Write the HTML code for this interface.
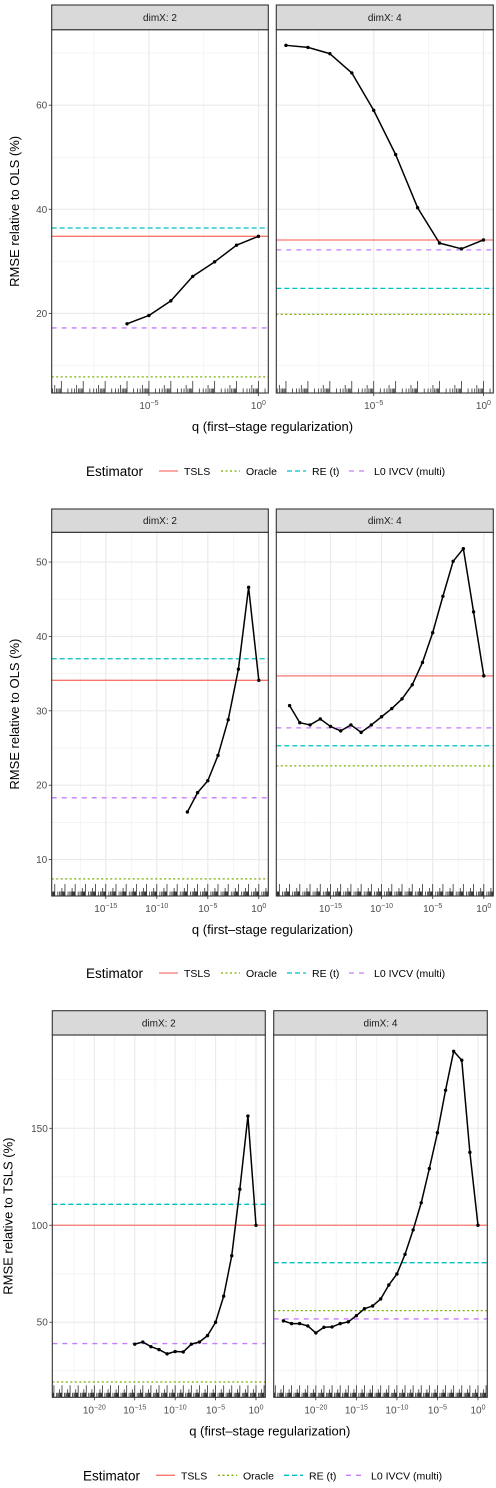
<!DOCTYPE html>
<html><head><meta charset="utf-8">
<style>html,body{margin:0;padding:0;background:#fff}svg{display:block}</style>
</head><body>
<svg id="chart" width="496" height="1488" xmlns="http://www.w3.org/2000/svg" font-family="Liberation Sans, sans-serif"></svg>
<script>
// ---- data: row 1 (RMSE relative to OLS) ----
const r1LeftLogQ = [-6,-5,-4,-3,-2,-1,0];
const r1LeftVals = [18.0,19.6,22.4,27.1,29.9,33.1,34.8];
const r1RightLogQ = [-9,-8,-7,-6,-5,-4,-3,-2,-1,0];
const r1RightVals = [71.5,71.1,69.9,66.2,59.0,50.5,40.3,33.5,32.4,34.1];
const r1LeftRefs = [34.8,7.8,36.4,17.2];   // TSLS, Oracle, RE, L0
const r1RightRefs = [34.1,19.8,24.8,32.2];
// ---- row 2 ----
const r2LeftLogQ = [-7,-6,-5,-4,-3,-2,-1,0];
const r2LeftVals = [16.4,19.0,20.6,24.0,28.8,35.6,46.6,34.1];
const r2RightLogQ = [-19,-18,-17,-16,-15,-14,-13,-12,-11,-10,-9,-8,-7,-6,-5,-4,-3,-2,-1,0];
const r2RightVals = [30.7,28.4,28.1,28.9,27.9,27.3,28.1,27.1,28.1,29.2,30.3,31.6,33.5,36.5,40.5,45.4,50.1,51.8,43.3,34.7];
const r2LeftRefs = [34.1,7.4,37.0,18.3];
const r2RightRefs = [34.7,22.6,25.3,27.7];
// ---- row 3 (RMSE relative to TSLS) ----
const r3LeftLogQ = [-15,-14,-13,-12,-11,-10,-9,-8,-7,-6,-5,-4,-3,-2,-1,0];
const r3LeftVals = [38.7,39.8,37.4,35.9,33.7,34.9,34.7,38.7,39.8,43.1,50.0,63.4,84.3,118.6,156.3,100];
const r3RightLogQ = [-24,-23,-22,-21,-20,-19,-18,-17,-16,-15,-14,-13,-12,-11,-10,-9,-8,-7,-6,-5,-4,-3,-2,-1,0];
const r3RightVals = [50.7,49.3,49.3,48.1,44.5,47.4,47.6,49.3,50.2,53.4,57.0,58.4,62.0,69.2,74.9,85.0,97.6,111.6,129.2,147.7,169.6,189.7,185.1,137.6,100];
const r3LeftRefs = [100,19.2,110.8,39.0];
const r3RightRefs = [100,56.0,80.7,51.7];
// ---- labels ----
const stripLabels = ["dimX: 2","dimX: 4"];
const legendLabels = ["TSLS","Oracle","RE (t)","L0 IVCV (multi)"];
const r1YTicks = [20,40,60], r1YMinor=[10,30,50,70], r1XTicks=[-5,0], r1XMinor=[-7.5,-2.5];
const r2YTicks = [10,20,30,40,50], r2YMinor=[15,25,35,45], r2XTicks=[-15,-10,-5,0], r2XMinor=[-17.5,-12.5,-7.5,-2.5];
const r3YTicks = [50,100,150], r3YMinor=[25,75,125,175], r3XTicks=[-20,-15,-10,-5,0], r3XMinor=[-22.5,-17.5,-12.5,-7.5,-2.5];

const NS="http://www.w3.org/2000/svg";
const svg=document.getElementById('chart');
function mk(tag,attrs,parent){const e=document.createElementNS(NS,tag);for(const k in attrs)e.setAttribute(k,attrs[k]);(parent||svg).appendChild(e);return e;}
const refColors=["#F8766D","#7CAE00","#00BFC4","#C77CFF"];
const refDash=["","2,2.5","5,3","5,5"];

function drawRow(cfg){
  const g=mk('g',{});
  
  
  const yS=v=>cfg.bottom-(v-cfg.yd[0])/(cfg.yd[1]-cfg.yd[0])*(cfg.bottom-cfg.top);
  cfg.panels.forEach((p,pi)=>{
    const xS=l=>p.x0+(l-cfg.xd[0])/(cfg.xd[1]-cfg.xd[0])*(p.x1-p.x0);
    const pg=mk('g',{},g);
    
    
    cfg.yMinor.forEach(v=>mk('line',{x1:p.x0,x2:p.x1,y1:yS(v),y2:yS(v),stroke:'#f0f0f0','stroke-width':0.7},pg));
    cfg.xMinor.forEach(v=>mk('line',{x1:xS(v),x2:xS(v),y1:cfg.top,y2:cfg.bottom,stroke:'#f0f0f0','stroke-width':0.7},pg));
    cfg.yTicks.forEach(v=>mk('line',{x1:p.x0,x2:p.x1,y1:yS(v),y2:yS(v),stroke:'#ebebeb','stroke-width':1.2},pg));
    cfg.xTicks.forEach(v=>mk('line',{x1:xS(v),x2:xS(v),y1:cfg.top,y2:cfg.bottom,stroke:'#ebebeb','stroke-width':1.2},pg));
    for(let d=Math.floor(cfg.xd[0]);d<=Math.ceil(cfg.xd[1]);d++){
      for(let m=1;m<=9;m++){
        const l=d+Math.log10(m);
        if(l<cfg.xd[0]||l>cfg.xd[1])continue;
        const len=m===1?12:(m===5?8:4.5);
        mk('line',{x1:xS(l),x2:xS(l),y1:cfg.bottom,y2:cfg.bottom-len,stroke:'#333','stroke-width':0.8},pg);
      }
    }
    p.refs.forEach((v,i)=>{
      const l=mk('line',{x1:p.x0,x2:p.x1,y1:yS(v),y2:yS(v),stroke:refColors[i],'stroke-width':1.3},pg);
      if(refDash[i])l.setAttribute('stroke-dasharray',refDash[i]);
      
      
    });
    const pts=p.q.map((q,i)=>xS(q).toFixed(2)+','+yS(p.v[i]).toFixed(2)).join(' ');
    const pl=mk('polyline',{points:pts,fill:'none',stroke:'#000','stroke-width':1.5,'stroke-linejoin':'round'},pg);
    
    
    p.q.forEach((q,i)=>{
      const c=mk('circle',{cx:xS(q),cy:yS(p.v[i]),r:1.7,fill:'#000'},pg);
      
      
    });
    mk('rect',{x:p.x0,y:cfg.top,width:p.x1-p.x0,height:cfg.bottom-cfg.top,fill:'none',stroke:'#333','stroke-width':1.1},pg);
    const st=mk('rect',{x:p.x0,y:cfg.stripTop,width:p.x1-p.x0,height:cfg.top-cfg.stripTop,fill:'#d9d9d9',stroke:'#333','stroke-width':1.1},pg);
    
    
    const stt=mk('text',{x:(p.x0+p.x1)/2,y:(cfg.stripTop+cfg.top)/2+3.5,'text-anchor':'middle','font-size':10,fill:'#1a1a1a'},pg);
    stt.textContent=stripLabels[pi];
    
    
    cfg.xTicks.forEach(v=>{
      mk('line',{x1:xS(v),x2:xS(v),y1:cfg.bottom,y2:cfg.bottom+3,stroke:'#333','stroke-width':0.8},pg);
      const t=mk('text',{x:xS(v),y:cfg.bottom+16,'text-anchor':'middle','font-size':10,fill:'#4d4d4d'},pg);
      
      
      t.appendChild(document.createTextNode('10'));
      const s=mk('tspan',{dy:-4,'font-size':7},t);
      s.textContent=(v<0?'\u2212'+(-v):String(v));
    });
    if(pi===0){
      cfg.yTicks.forEach(v=>{
        mk('line',{x1:p.x0-3,x2:p.x0,y1:yS(v),y2:yS(v),stroke:'#333','stroke-width':0.8},pg);
        const t=mk('text',{x:p.x0-4.5,y:yS(v)+3.5,'text-anchor':'end','font-size':10,fill:'#4d4d4d'},pg);
        t.textContent=v;
        
        
      });
    }
  });
  const cy=(cfg.top+cfg.bottom)/2;
  const yt=mk('text',{x:cfg.yTitleX,y:cy,'text-anchor':'middle','font-size':13,fill:'#000',transform:`rotate(-90 ${cfg.yTitleX} ${cy})`},g);
  yt.textContent=cfg.yTitle;
  
  
  const midX=(cfg.panels[0].x0+cfg.panels[1].x1)/2;
  const xt=mk('text',{x:midX,y:cfg.bottom+38,'text-anchor':'middle','font-size':13,fill:'#000'},g);
  xt.textContent='q (first\u2013stage regularization)';
  
  
  const ly=cfg.bottom+cfg.legendDy;
  const lg=mk('g',{},g);
  
  
  const lt=mk('text',{x:cfg.legX,y:ly+5,'font-size':13.5,fill:'#000'},lg);
  lt.textContent='Estimator';
  
  
  const keyX=[cfg.legX+73,cfg.legX+135,cfg.legX+201,cfg.legX+263];
  legendLabels.forEach((lab,i)=>{
    const e=mk('g',{},lg);
    
    
    const l=mk('line',{x1:keyX[i],x2:keyX[i]+19,y1:ly,y2:ly,stroke:refColors[i],'stroke-width':1.3},e);
    if(refDash[i])l.setAttribute('stroke-dasharray',refDash[i]);
    const t=mk('text',{x:keyX[i]+25,y:ly+4,'font-size':10.5,fill:'#000'},e);
    t.textContent=lab;
  });
}

drawRow({name:'row-ols-1',stripTop:5,top:29.7,bottom:393,yd:[4.7,74.5],xd:[-9.44,0.45],
  yTicks:r1YTicks,yMinor:r1YMinor,xTicks:r1XTicks,xMinor:r1XMinor,yTitle:'RMSE relative to OLS (%)',yTitleX:19,legX:86,legendDy:78,
  panels:[{x0:51.7,x1:268.3,q:r1LeftLogQ,v:r1LeftVals,refs:r1LeftRefs},{x0:276.3,x1:493.3,q:r1RightLogQ,v:r1RightVals,refs:r1RightRefs}]});
drawRow({name:'row-ols-2',stripTop:509,top:532.3,bottom:896,yd:[5.1,54.0],xd:[-20.3,0.93],
  yTicks:r2YTicks,yMinor:r2YMinor,xTicks:r2XTicks,xMinor:r2XMinor,yTitle:'RMSE relative to OLS (%)',yTitleX:19,legX:86,legendDy:77,
  panels:[{x0:51.7,x1:268.3,q:r2LeftLogQ,v:r2LeftVals,refs:r2LeftRefs},{x0:276.3,x1:493.3,q:r2RightLogQ,v:r2RightVals,refs:r2RightRefs}]});
drawRow({name:'row-tsls',stripTop:1010.7,top:1035,bottom:1397.3,yd:[11.3,198.1],xd:[-25.2,1.15],
  yTicks:r3YTicks,yMinor:r3YMinor,xTicks:r3XTicks,xMinor:r3XMinor,yTitle:'RMSE relative to TSLS (%)',yTitleX:12.5,legX:83,legendDy:78,
  panels:[{x0:52.3,x1:265.3,q:r3LeftLogQ,v:r3LeftVals,refs:r3LeftRefs},{x0:273.7,x1:487.3,q:r3RightLogQ,v:r3RightVals,refs:r3RightRefs}]});
</script>
</body></html>
